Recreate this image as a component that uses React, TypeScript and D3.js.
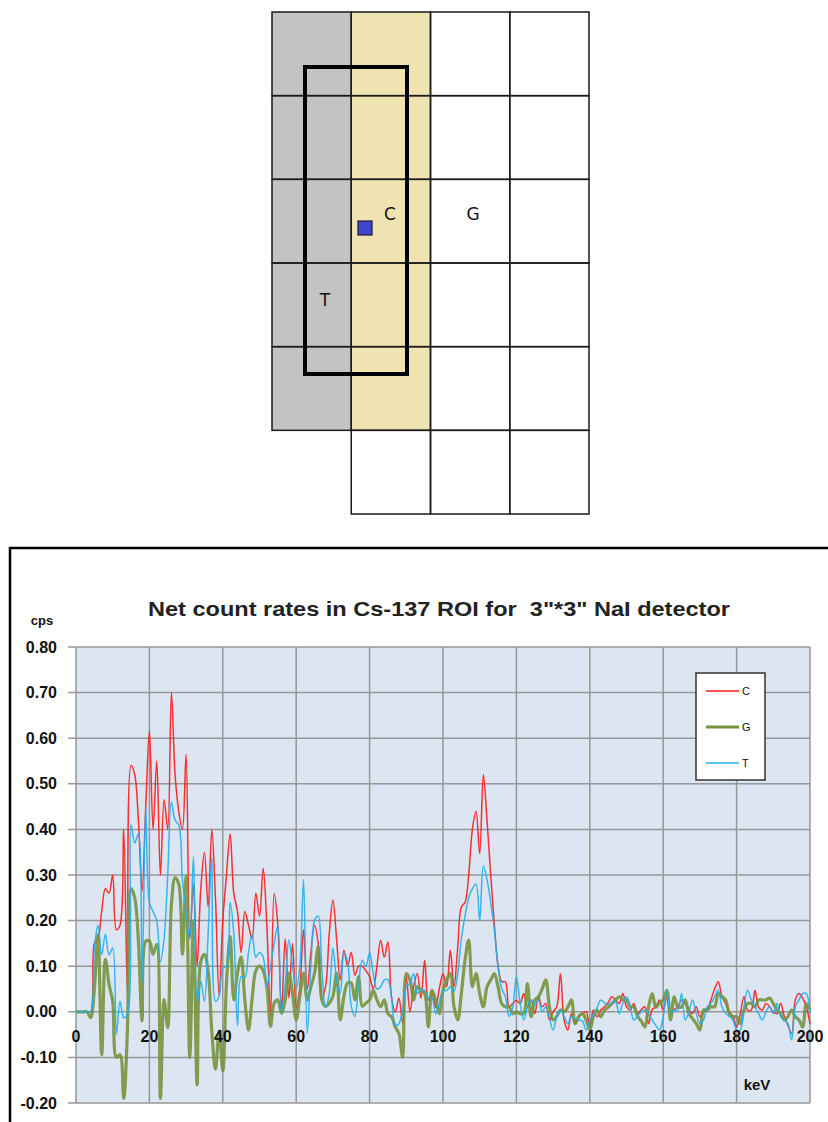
import React from "react";
import * as d3 from "d3";

// energy channels (keV) 0..200, 1 keV steps
const energies: number[] = d3.range(0, 201, 1);

const seriesNames = ["C", "G", "T"];
const seriesColors = ["#ff1a1a", "#77933c", "#22b0ee"];
const seriesWidths = [1.5, 3.2, 1.5];

const valuesC: number[] = [
  0, 0, 0, 0, 0, 0.15, 0.16, 0.22, 0.27, 0.26,
  0.30, 0.18, 0.19, 0.40, 0.045, 0.54, 0.52, 0.42, 0.265, 0.45,
  0.615, 0.40, 0.55, 0.30, 0.465, 0.40, 0.70, 0.52, 0.44, 0.40,
  0.565, 0.16, 0.28, 0.10, 0.27, 0.35, 0.23, 0.40, 0.25, 0.035,
  0.20, 0.30, 0.39, 0.26, 0.22, 0.13, 0.22, 0.19, 0.16, 0.26,
  0.21, 0.315, 0.19, -0.01, 0.26, 0.19, 0.0, 0.16, 0.03, 0.15,
  0.01, 0.055, 0.18, 0.05, 0.13, 0.19, 0.15, 0.03, 0.055, 0.17,
  0.245, 0.16, 0.07, 0.135, 0.10, 0.13, 0.08, 0.10, 0.10, 0.09,
  0.077, 0.05, 0.10, 0.157, 0.12, 0.153, 0.03, 0.0, 0.03, -0.025,
  0.077, 0.0, 0.055, 0.084, 0.03, 0.113, 0.025, 0.04, 0.01, 0.05,
  0.084, 0.055, 0.135, 0.055, 0.14, 0.23, 0.24, 0.30, 0.40, 0.44,
  0.347, 0.52, 0.42, 0.30, 0.19, 0.10, 0.066, 0.066, 0.01, 0.018,
  0.025, 0.018, 0.04, 0.011, 0.026, -0.004, 0.033, 0.011, 0.018, -0.018,
  0.0, 0.011, 0.084, -0.018, -0.04, -0.004, -0.026, -0.011, -0.004, 0.0,
  -0.033, 0.004, -0.011, 0.004, 0.011, 0.02, 0.033, 0.026, 0.018, 0.04,
  0.011, 0.004, 0.018, -0.005, 0.005, 0.011, -0.026, 0.005, 0.011, 0.026,
  0.004, 0.033, -0.004, 0.005, 0.011, 0.026, 0.018, 0.005, -0.004, 0.011,
  -0.011, 0.0, 0.004, 0.026, 0.05, 0.066, 0.033, 0.018, 0.0, -0.01,
  -0.033, -0.004, 0.033, 0.004, 0.004, 0.047, 0.01, 0.004, 0.018, 0.011,
  0.0, -0.004, 0.018, -0.01, -0.03, -0.048, 0.026, 0.04, 0.03, 0.011,
  -0.026,
];

const valuesG: number[] = [
  0, 0, 0, 0, -0.013, 0.05, 0.17, -0.094, 0.115, 0.06,
  0.023, -0.10, -0.094, -0.19, -0.042, 0.27, 0.25, 0.155, -0.02, 0.155,
  0.155, 0.126, 0.148, -0.19, 0.027, -0.035, 0.235, 0.294, 0.28, 0.126,
  0.297, -0.10, 0.2, -0.16, 0.11, 0.126, 0.089, -0.042, -0.126, -0.042,
  -0.13, 0.063, 0.165, 0.026, 0.085, 0.12, 0.026, -0.04, 0.03, 0.09,
  0.10, 0.09, 0.055, -0.032, 0.019, 0.026, -0.003, 0.026, 0.085, 0.04,
  -0.018, 0.034, 0.085, 0.026, 0.055, 0.085, 0.143, 0.026, 0.012, 0.019,
  0.034, 0.085, -0.018, 0.034, 0.063, 0.063, 0.026, 0.077, 0.012, 0.019,
  0.026, 0.047, 0.026, 0.011, 0.026, -0.004, -0.011, -0.033, -0.048, -0.10,
  0.084, 0.07, 0.026, 0.055, 0.047, 0.04, -0.033, 0.047, 0.026, -0.004,
  0.047, 0.07, 0.084, 0.011, -0.018, 0.04, 0.113, 0.157, 0.055, 0.084,
  0.04, 0.011, 0.055, 0.07, 0.084, 0.055, 0.018, 0.011, 0.011, -0.004,
  0.0, -0.004, -0.004, 0.062, -0.011, 0.026, 0.033, 0.05, 0.07, 0.011,
  -0.018, -0.01, 0.004, 0.0, 0.01, 0.026, -0.026, -0.01, -0.004, -0.018,
  -0.04, -0.01, 0.004, -0.011, 0.004, 0.01, 0.018, 0.026, 0.033, 0.026,
  0.026, 0.011, 0.011, -0.01, -0.02, -0.033, 0.01, 0.04, 0.01, 0.02,
  0.026, 0.047, -0.018, 0.033, 0.011, 0.011, 0.026, -0.004, -0.015, -0.026,
  -0.04, 0.004, 0.004, 0.011, 0.011, 0.04, 0.033, 0.026, -0.004, -0.011,
  -0.011, -0.026, 0.004, 0.018, 0.018, 0.011, 0.026, 0.026, 0.026, 0.03,
  0.018, 0.004, -0.004, -0.018, -0.01, 0.004, -0.011, -0.018, -0.033, 0.018,
  0.004,
];

const valuesT: number[] = [
  0, 0, 0, 0, 0, 0.14, 0.19, 0.125, 0.17, 0.125,
  0.14, -0.05, 0.023, -0.013, -0.006, 0.41, 0.37, 0.39, 0.064, 0.45,
  0.24, 0.22, 0.20, 0.11, 0.16, 0.30, 0.46, 0.42, 0.41, 0.29,
  0.22, 0.16, 0.34, 0.023, 0.067, 0.023, 0.17, 0.34, 0.023, 0.034,
  0.096, 0.10, 0.24, 0.17, -0.03, 0.077, 0.074, 0.13, 0.17, 0.12,
  0.13, 0.12, 0.055, 0.10, 0.15, 0.19, 0.0, 0.06, 0.158, 0.10,
  0.05, 0.10, 0.29, -0.047, 0.10, 0.20, 0.21, 0.09, 0.01, 0.04,
  0.14, 0.07, 0.04, 0.13, 0.11, 0.012, -0.01, 0.06, 0.113, 0.10,
  0.13, 0.084, 0.05, 0.055, 0.07, 0.07, 0.03, -0.03, -0.026, 0.005,
  0.055, 0.062, 0.084, 0.04, 0.05, 0.047, 0.03, 0.03, -0.005, 0.02,
  0.047, 0.047, 0.055, 0.045, 0.084, 0.16, 0.21, 0.25, 0.27, 0.28,
  0.20, 0.32, 0.29, 0.24, 0.18, 0.10, 0.05, 0.033, -0.01, 0.01,
  0.077, 0.02, -0.018, 0.01, 0.026, 0.015, 0.026, 0.0, 0.011, -0.015,
  -0.04, -0.01, 0.004, -0.01, -0.026, -0.011, -0.015, -0.018, -0.02, -0.04,
  -0.02, -0.005, 0.01, 0.026, 0.02, 0.015, 0.02, 0.022, -0.004, 0.02,
  0.033, 0.011, -0.018, -0.01, 0.0, 0.004, -0.004, -0.018, -0.03, -0.04,
  -0.011, 0.047, -0.004, 0.004, 0.004, 0.04, -0.018, 0.0, 0.026, -0.004,
  -0.026, -0.018, 0.011, 0.018, 0.033, 0.047, 0.011, -0.004, -0.01, -0.018,
  -0.04, -0.04, 0.011, 0.047, 0.026, 0.011, -0.004, -0.018, 0.0, 0.011,
  -0.004, 0.018, -0.01, -0.018, -0.026, -0.062, 0.011, 0.026, 0.04, 0.04,
  -0.004,
];

const yTicks: number[] = [-0.2, -0.1, 0, 0.1, 0.2, 0.3, 0.4, 0.5, 0.6, 0.7, 0.8];
const xTicks: number[] = [0, 20, 40, 60, 80, 100, 120, 140, 160, 180, 200];

const titleText = 'Net count rates in Cs-137 ROI for  3"*3" NaI detector';
const yAxisTitle = "cps";
const xAxisTitle = "keV";

// top diagram: grid of detector cells
const gridCols: number[] = [0, 1, 2, 3];
const gridRows: number[] = [0, 1, 2, 3, 4, 5];
const cellLabels = [
  { text: "C", col: 1, row: 2 },
  { text: "G", col: 2, row: 2 },
  { text: "T", col: 0, row: 3 },
];

export default function App() {
  const x = d3.scaleLinear().domain([0, 200]).range([76, 810]);
  const y = d3.scaleLinear().domain([-0.2, 0.8]).range([1103, 647]);

  const allSeries = [valuesC, valuesG, valuesT];
  const line = d3
    .line<number>()
    .x((_, i) => x(energies[i]))
    .y((d) => y(d))
    .curve(d3.curveCatmullRom.alpha(0.5));

  // diagram scales
  const cx = d3.scaleLinear().domain([0, 4]).range([272, 589]);
  const cy = d3.scaleLinear().domain([0, 6]).range([12, 514]);

  const fontMain = "'Liberation Sans', Arial, sans-serif";

  return (
    <div style={{ position: "absolute", left: 0, top: 0 }}>
      <svg width={828} height={1122} style={{ display: "block", background: "#fff" }}>
        {/* ---------- top diagram ---------- */}
        <g>
          <rect x={cx(0)} y={cy(0)} width={cx(1) - cx(0)} height={cy(5) - cy(0)} fill="#c3c3c3" />
          <rect x={cx(1)} y={cy(0)} width={cx(2) - cx(1)} height={cy(5) - cy(0)} fill="#efe3b1" />
          {gridRows.map((r) =>
            gridCols.map((c) => {
              if (r === 5 && c === 0) return null;
              return (
                <rect
                  key={`cell-${r}-${c}`}
                  x={cx(c)}
                  y={cy(r)}
                  width={cx(c + 1) - cx(c)}
                  height={cy(r + 1) - cy(r)}
                  fill="none"
                  stroke="#1a1a1a"
                  strokeWidth={1.5}
                />
              );
            })
          )}
          <rect x={305} y={67} width={102} height={307} fill="none" stroke="#000" strokeWidth={4} />
          <rect x={358} y={221} width={14} height={14} fill="#3f48cc" stroke="#1a1a3a" strokeWidth={1.2} />
          {cellLabels.map((l) => (
            <text
              key={l.text}
              x={l.text === "C" ? 390 : l.text === "G" ? 473 : 325}
              y={l.text === "T" ? 306 : 220}
              textAnchor="middle"
              fontFamily="'DejaVu Sans', Verdana, sans-serif"
              fontSize={17}
              fill="#111"
            >
              {l.text}
            </text>
          ))}
        </g>

        {/* ---------- chart frame ---------- */}
        <path d="M10,1122 V548 H828" fill="none" stroke="#000" strokeWidth={2.5} />

        {/* title */}
        <text
          x={439}
          y={616}
          textAnchor="middle"
          fontFamily={fontMain}
          fontWeight="bold"
          fontSize={21}
          fill="#222"
          textLength={582}
          lengthAdjust="spacingAndGlyphs"
          style={{ whiteSpace: "pre" }}
        >
          {titleText}
        </text>
        <text x={42} y={625} textAnchor="middle" fontFamily={fontMain} fontWeight="bold" fontSize={13} fill="#111">
          {yAxisTitle}
        </text>

        {/* plot area */}
        <rect x={x(0)} y={y(0.8)} width={x(200) - x(0)} height={y(-0.2) - y(0.8)} fill="#dce6f2" />
        {yTicks.map((t) => (
          <line key={`gy${t}`} x1={x(0) - 8} x2={x(200)} y1={y(t)} y2={y(t)} stroke="#979797" strokeWidth={1.5} />
        ))}
        {xTicks.map((t) => (
          <line key={`gx${t}`} x1={x(t)} x2={x(t)} y1={y(0.8)} y2={y(-0.2)} stroke="#979797" strokeWidth={1.5} />
        ))}

        {/* y tick labels */}
        {yTicks.map((t) => (
          <text
            key={`ly${t}`}
            x={57}
            y={y(t) + 5.5}
            textAnchor="end"
            fontFamily={fontMain}
            fontWeight="bold"
            fontSize={16}
            fill="#111"
          >
            {t.toFixed(2)}
          </text>
        ))}

        {/* series */}
        {allSeries.map((s, i) => (
          <path
            key={seriesNames[i]}
            d={line(s) || ""}
            fill="none"
            stroke={seriesColors[i]}
            strokeWidth={seriesWidths[i]}
            strokeLinejoin="round"
            strokeOpacity={0.9}
          />
        ))}

        {/* x tick labels */}
        {xTicks.map((t) => (
          <text
            key={`lx${t}`}
            x={x(t)}
            y={y(0) + 30}
            textAnchor="middle"
            fontFamily={fontMain}
            fontWeight="bold"
            fontSize={16}
            fill="#111"
          >
            {t}
          </text>
        ))}
        <text x={757} y={1090} textAnchor="middle" fontFamily={fontMain} fontWeight="bold" fontSize={15} fill="#111">
          {xAxisTitle}
        </text>

        {/* legend */}
        <rect x={696} y={673} width={69} height={107} fill="#fff" stroke="#333" strokeWidth={1.5} />
        {seriesNames.map((n, i) => {
          const ly = 691 + i * 36;
          return (
            <g key={`leg${n}`}>
              <line x1={706} x2={739} y1={ly} y2={ly} stroke={seriesColors[i]} strokeWidth={seriesWidths[i]} />
              <text x={742} y={ly + 4} fontFamily={fontMain} fontSize={11} fill="#111">
                {n}
              </text>
            </g>
          );
        })}
      </svg>
    </div>
  );
}
